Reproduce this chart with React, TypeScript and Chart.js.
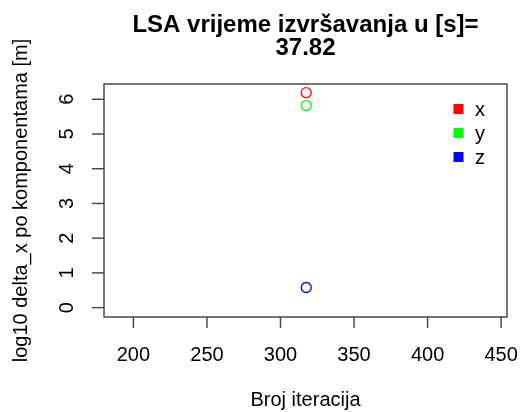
import React, { useEffect, useRef } from "react";
import { Chart, registerables } from "chart.js";

Chart.register(...registerables);

const titleLines = ["LSA vrijeme izvršavanja u [s]=", "37.82"];
const xAxisTitle = "Broj iteracija";
const yAxisTitle = "log10 delta_x po komponentama [m]";
const xTicks = [200, 250, 300, 350, 400, 450];
const yTicks = [0, 1, 2, 3, 4, 5, 6];
const seriesNames = ["x", "y", "z"];
const seriesColors = ["#ff0000", "#00ff00", "#0000ff"];
const iteration = [317.5];
const xValues = [6.19];
const yValues = [5.82];
const zValues = [0.58];
const xMin = 180;
const xMax = 454;
const yMin = -0.27;
const yMax = 6.44;

const FONT = '"Liberation Sans", Arial, Helvetica, sans-serif';

const rStyle = {
  id: "rStyle",
  afterDraw(chart: any) {
    const ctx = chart.ctx as CanvasRenderingContext2D;
    const ca = chart.chartArea;
    const xs = chart.scales.x;
    const ys = chart.scales.y;
    ctx.save();
    // box
    ctx.strokeStyle = "#4a4a4a";
    ctx.lineWidth = 1.5;
    ctx.strokeRect(ca.left, ca.top, ca.right - ca.left, ca.bottom - ca.top);
    // x ticks
    ctx.fillStyle = "#000";
    ctx.strokeStyle = "#4a4a4a";
    ctx.font = `20px ${FONT}`;
    ctx.textAlign = "center";
    ctx.textBaseline = "alphabetic";
    for (const t of xTicks) {
      const px = xs.getPixelForValue(t);
      ctx.beginPath();
      ctx.moveTo(px, ca.bottom);
      ctx.lineTo(px, ca.bottom + 11);
      ctx.stroke();
      ctx.fillText(String(t), px, 361);
    }
    // y ticks
    for (const t of yTicks) {
      const py = ys.getPixelForValue(t);
      ctx.beginPath();
      ctx.moveTo(ca.left, py);
      ctx.lineTo(ca.left - 12, py);
      ctx.stroke();
      ctx.save();
      ctx.translate(73, py);
      ctx.rotate(-Math.PI / 2);
      ctx.textAlign = "center";
      ctx.fillText(String(t), 0, 0);
      ctx.restore();
    }
    // axis titles
    const cx = (ca.left + ca.right) / 2;
    const cy = (ca.top + ca.bottom) / 2;
    ctx.textAlign = "center";
    ctx.fillText(xAxisTitle, cx, 406);
    ctx.save();
    ctx.translate(27, cy);
    ctx.rotate(-Math.PI / 2);
    ctx.fillText(yAxisTitle, 0, 0);
    ctx.restore();
    // title
    ctx.font = `bold 24px ${FONT}`;
    ctx.fillText(titleLines[0], cx, 32);
    ctx.fillText(titleLines[1], cx, 55);
    // legend
    ctx.font = `20px ${FONT}`;
    ctx.textAlign = "left";
    seriesNames.forEach((name, i) => {
      const rowY = 109 + i * 24;
      ctx.fillStyle = seriesColors[i];
      ctx.fillRect(453.5, rowY - 5, 10, 10);
      ctx.fillStyle = "#000";
      ctx.fillText(name, 475, rowY + 7);
    });
    ctx.restore();
  },
};

export default function App() {
  const ref = useRef<HTMLCanvasElement | null>(null);
  useEffect(() => {
    if (!ref.current) return;
    const series = [xValues, yValues, zValues];
    const chart = new Chart(ref.current, {
      type: "scatter",
      data: {
        datasets: seriesNames.map((name, i) => ({
          label: name,
          data: iteration.map((it, j) => ({ x: it, y: series[i][j] })),
          borderColor: seriesColors[i],
          backgroundColor: "rgba(0,0,0,0)",
          borderWidth: 1.3,
          pointRadius: 5,
          pointStyle: "circle",
        })),
      },
      options: {
        animation: false,
        responsive: false,
        devicePixelRatio: 1,
        layout: { padding: { left: 104, top: 84, right: 14, bottom: 95 } },
        plugins: { legend: { display: false }, title: { display: false }, tooltip: { enabled: false } },
        scales: {
          x: { type: "linear", min: xMin, max: xMax, display: false },
          y: { type: "linear", min: yMin, max: yMax, display: false },
        },
      },
      plugins: [rStyle],
    });
    return () => chart.destroy();
  }, []);
  return (
    <div style={{ position: "absolute", left: 0, top: 0, width: 521, height: 412, background: "#fff" }}>
      <canvas ref={ref} width={521} height={412} />
    </div>
  );
}
